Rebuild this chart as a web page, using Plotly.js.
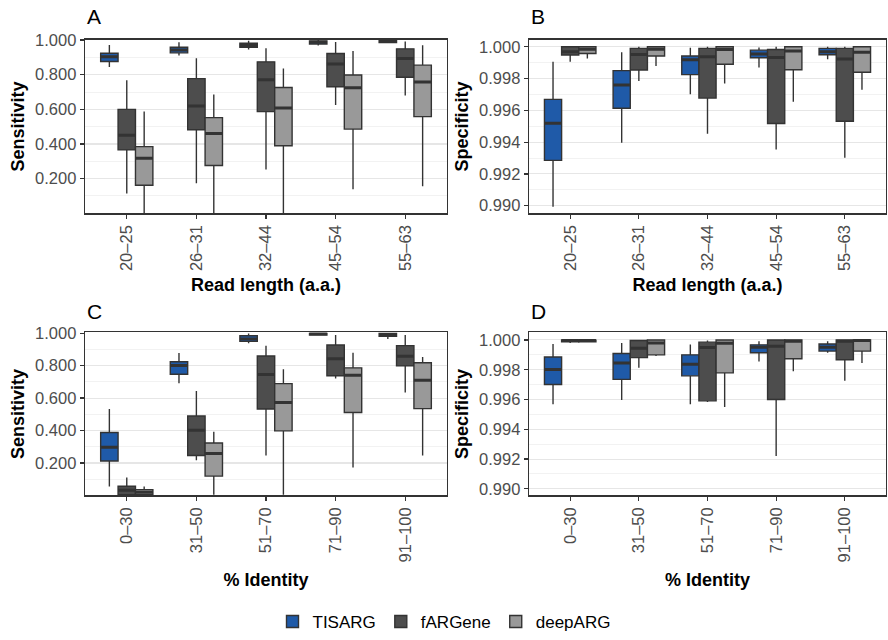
<!DOCTYPE html>
<html>
<head>
<meta charset="utf-8">
<script src="https://cdn.plot.ly/plotly-3.0.1.min.js"></script>
<style>html,body{margin:0;padding:0;background:#fff}#chart{width:888px;height:640px}</style>
</head>
<body>
<div id="chart"></div>
<script>
// ---- categories ----
const readLengths = ["20–25", "26–31", "32–44", "45–54", "55–63"];
const identities = ["0–30", "31–50", "51–70", "71–90", "91–100"];
const methods = ["TISARG", "fARGene", "deepARG"];

// ---- Panel A: Sensitivity vs read length ----
const A_TISARG_low = [0.844, 0.910, 0.945, 0.968, 0.981];
const A_TISARG_q1  = [0.876, 0.926, 0.958, 0.977, 0.985];
const A_TISARG_med = [0.903, 0.943, 0.968, 0.987, 0.994];
const A_TISARG_q3  = [0.924, 0.958, 0.981, 0.994, 0.999];
const A_TISARG_up  = [0.971, 0.987, 0.996, 1.000, 1.000];

const A_fARGene_low = [0.114, 0.173, 0.253, 0.625, 0.680];
const A_fARGene_q1  = [0.366, 0.482, 0.587, 0.730, 0.785];
const A_fARGene_med = [0.450, 0.619, 0.771, 0.861, 0.893];
const A_fARGene_q3  = [0.600, 0.777, 0.874, 0.922, 0.949];
const A_fARGene_up  = [0.768, 0.895, 0.952, 0.989, 0.992];

const A_deepARG_low = [0.000, 0.000, 0.000, 0.139, 0.156];
const A_deepARG_q1  = [0.162, 0.276, 0.390, 0.486, 0.558];
const A_deepARG_med = [0.318, 0.461, 0.608, 0.724, 0.758];
const A_deepARG_q3  = [0.385, 0.552, 0.726, 0.798, 0.855];
const A_deepARG_up  = [0.587, 0.686, 0.836, 0.937, 0.970];

// ---- Panel B: Specificity vs read length ----
const B_TISARG_low = [0.98994, 0.99396, 0.99702, 0.99869, 0.99921];
const B_TISARG_q1  = [0.99285, 0.99613, 0.99825, 0.99931, 0.99950];
const B_TISARG_med = [0.99519, 0.99760, 0.99919, 0.99954, 0.99969];
const B_TISARG_q3  = [0.99669, 0.99850, 0.99942, 0.99979, 0.99990];
const B_TISARG_up  = [0.99906, 0.99965, 0.99994, 0.99996, 1.00000];

const B_fARGene_low = [0.99906, 0.99785, 0.99452, 0.99354, 0.99302];
const B_fARGene_q1  = [0.99948, 0.99854, 0.99677, 0.99517, 0.99531];
const B_fARGene_med = [0.99969, 0.99952, 0.99938, 0.99933, 0.99923];
const B_fARGene_q3  = [1.00000, 0.99990, 0.99990, 0.99983, 0.99990];
const B_fARGene_up  = [1.00000, 1.00000, 1.00000, 1.00000, 1.00000];

const B_deepARG_low = [0.99927, 0.99879, 0.99769, 0.99654, 0.99729];
const B_deepARG_q1  = [0.99958, 0.99942, 0.99890, 0.99856, 0.99840];
const B_deepARG_med = [0.99985, 0.99985, 0.99983, 0.99973, 0.99965];
const B_deepARG_q3  = [1.00000, 1.00000, 1.00000, 1.00000, 1.00000];
const B_deepARG_up  = [1.00000, 1.00000, 1.00000, 1.00000, 1.00000];

// ---- Panel C: Sensitivity vs % identity ----
const C_TISARG_low = [0.055, 0.691, 0.937, 0.984, 0.964];
const C_TISARG_q1  = [0.212, 0.747, 0.949, 0.988, 0.980];
const C_TISARG_med = [0.297, 0.800, 0.964, 0.996, 0.992];
const C_TISARG_q3  = [0.388, 0.824, 0.984, 1.000, 1.000];
const C_TISARG_up  = [0.533, 0.877, 0.998, 1.000, 1.000];

const C_fARGene_low = [0.004, 0.216, 0.246, 0.721, 0.634];
const C_fARGene_q1  = [0.004, 0.246, 0.533, 0.737, 0.798];
const C_fARGene_med = [0.032, 0.402, 0.745, 0.842, 0.857];
const C_fARGene_q3  = [0.057, 0.489, 0.859, 0.927, 0.923];
const C_fARGene_up  = [0.111, 0.644, 0.923, 0.988, 0.988];

const C_deepARG_low = [0.004, 0.004, 0.004, 0.172, 0.246];
const C_deepARG_q1  = [0.004, 0.119, 0.398, 0.511, 0.535];
const C_deepARG_med = [0.020, 0.259, 0.572, 0.741, 0.709];
const C_deepARG_q3  = [0.036, 0.323, 0.689, 0.786, 0.818];
const C_deepARG_up  = [0.055, 0.392, 0.778, 0.879, 0.853];

// ---- Panel D: Specificity vs % identity ----
const D_TISARG_low = [0.99569, 0.99597, 0.99569, 0.99856, 0.99914];
const D_TISARG_q1  = [0.99701, 0.99735, 0.99759, 0.99914, 0.99925];
const D_TISARG_med = [0.99801, 0.99845, 0.99836, 0.99951, 0.99951];
const D_TISARG_q3  = [0.99885, 0.99909, 0.99900, 0.99967, 0.99973];
const D_TISARG_up  = [0.99973, 0.99980, 0.99969, 0.99991, 0.99991];

const D_fARGene_low = [0.99980, 0.99814, 0.99584, 0.99221, 0.99726];
const D_fARGene_q1  = [0.99987, 0.99881, 0.99591, 0.99600, 0.99867];
const D_fARGene_med = [0.99996, 0.99945, 0.99949, 0.99958, 0.99991];
const D_fARGene_q3  = [1.00000, 0.99996, 0.99985, 1.00000, 1.00000];
const D_fARGene_up  = [1.00000, 1.00000, 0.99996, 1.00000, 1.00000];

const D_deepARG_low = [0.99982, 0.99892, 0.99549, 0.99790, 0.99845];
const D_deepARG_q1  = [0.99987, 0.99900, 0.99779, 0.99874, 0.99925];
const D_deepARG_med = [0.99996, 0.99980, 0.99978, 0.99991, 0.99996];
const D_deepARG_q3  = [0.99998, 1.00000, 1.00000, 1.00000, 1.00000];
const D_deepARG_up  = [1.00000, 1.00000, 1.00000, 1.00000, 1.00000];

// ---- tick labels ----
const sensTicks = [0.2, 0.4, 0.6, 0.8, 1.0];
const sensMinor = [0.1, 0.3, 0.5, 0.7, 0.9];
const specTicks = [0.990, 0.992, 0.994, 0.996, 0.998, 1.000];
const specMinor = [0.991, 0.993, 0.995, 0.997, 0.999];

const fillColors = {TISARG: "#1f5aa8", fARGene: "#4d4d4d", deepARG: "#999999"};

const panels = [
  {cats: readLengths, xa: "x",  ya: "y",  data: {
     TISARG: [A_TISARG_low, A_TISARG_q1, A_TISARG_med, A_TISARG_q3, A_TISARG_up],
     fARGene: [A_fARGene_low, A_fARGene_q1, A_fARGene_med, A_fARGene_q3, A_fARGene_up],
     deepARG: [A_deepARG_low, A_deepARG_q1, A_deepARG_med, A_deepARG_q3, A_deepARG_up]}},
  {cats: readLengths, xa: "x2", ya: "y2", data: {
     TISARG: [B_TISARG_low, B_TISARG_q1, B_TISARG_med, B_TISARG_q3, B_TISARG_up],
     fARGene: [B_fARGene_low, B_fARGene_q1, B_fARGene_med, B_fARGene_q3, B_fARGene_up],
     deepARG: [B_deepARG_low, B_deepARG_q1, B_deepARG_med, B_deepARG_q3, B_deepARG_up]}},
  {cats: identities, xa: "x3", ya: "y3", data: {
     TISARG: [C_TISARG_low, C_TISARG_q1, C_TISARG_med, C_TISARG_q3, C_TISARG_up],
     fARGene: [C_fARGene_low, C_fARGene_q1, C_fARGene_med, C_fARGene_q3, C_fARGene_up],
     deepARG: [C_deepARG_low, C_deepARG_q1, C_deepARG_med, C_deepARG_q3, C_deepARG_up]}},
  {cats: identities, xa: "x4", ya: "y4", data: {
     TISARG: [D_TISARG_low, D_TISARG_q1, D_TISARG_med, D_TISARG_q3, D_TISARG_up],
     fARGene: [D_fARGene_low, D_fARGene_q1, D_fARGene_med, D_fARGene_q3, D_fARGene_up],
     deepARG: [D_deepARG_low, D_deepARG_q1, D_deepARG_med, D_deepARG_q3, D_deepARG_up]}}
];

const traces = [];
panels.forEach((p, pi) => {
  methods.forEach(m => {
    const d = p.data[m];
    traces.push({
      type: "box",
      name: m,
      legendgroup: m,
      showlegend: pi === 0,
      alignmentgroup: "panel" + pi,
      offsetgroup: m,
      x: p.cats,
      lowerfence: d[0], q1: d[1], median: d[2], q3: d[3], upperfence: d[4],
      xaxis: p.xa, yaxis: p.ya,
      fillcolor: fillColors[m],
      line: {color: "#333333", width: 1.4},
      whiskerwidth: 0,
      boxpoints: false,
      hoverinfo: "skip"
    });
  });
  // thicker median bars, drawn from the same median arrays
  methods.forEach(m => {
    const d = p.data[m];
    traces.push({
      type: "box",
      name: m + " median",
      legendgroup: m,
      showlegend: false,
      alignmentgroup: "panel" + pi,
      offsetgroup: m,
      x: p.cats,
      lowerfence: d[2], q1: d[2], median: d[2], q3: d[2], upperfence: d[2],
      xaxis: p.xa, yaxis: p.ya,
      fillcolor: "rgba(0,0,0,0)",
      line: {color: "#333333", width: 3},
      whiskerwidth: 0,
      boxpoints: false,
      hoverinfo: "skip"
    });
  });
});

const FAM = "Liberation Sans, Arial, sans-serif";
const tickFont = {family: FAM, size: 16.5, color: "#4d4d4d"};
const titleFont = {family: FAM, size: 18, color: "#000000", weight: "bold"};

function xAxis(domain, anchor, title, standoff) {
  return {
    domain: domain, anchor: anchor, type: "category",
    range: [-0.6, 4.6],
    showgrid: false, zeroline: false,
    showline: true, mirror: true, linecolor: "#333333", linewidth: 1.3,
    ticks: "outside", ticklen: 4, tickcolor: "#333333", tickwidth: 1.2,
    tickangle: -90, tickfont: tickFont,
    automargin: false,
    title: {text: title, font: titleFont, standoff: standoff}
  };
}
function yAxis(domain, anchor, title, range, tv, minorTv) {
  return {
    domain: domain, anchor: anchor,
    range: range,
    tickmode: "array", tickvals: tv,
    tickformat: ".3f",
    showgrid: true, gridcolor: "#e6e6e6", gridwidth: 1.1,
    minor: {tickmode: "array", tickvals: minorTv, showgrid: true, gridcolor: "#f2f2f2", gridwidth: 1, ticks: ""},
    zeroline: false,
    showline: true, mirror: true, linecolor: "#333333", linewidth: 1.3,
    ticks: "outside", ticklen: 4, tickcolor: "#333333", tickwidth: 1.2,
    tickfont: tickFont,
    automargin: false,
    title: {text: title, font: titleFont, standoff: 5}
  };
}

const xdL = [85/888, 447/888], xdR = [529/888, 886/888];
const ydT = [(640-216)/640, (640-40)/640], ydB = [(640-501.7)/640, (640-336.7)/640];

const layout = {
  width: 888, height: 640,
  margin: {l: 0, r: 0, t: 0, b: 0},
  paper_bgcolor: "#ffffff", plot_bgcolor: "#ffffff",
  font: {family: FAM},
  boxmode: "group", boxgap: 0.25, boxgroupgap: 0,
  xaxis:  xAxis(xdL, "y",  "Read length (a.a.)", 8),
  xaxis2: xAxis(xdR, "y2", "Read length (a.a.)", 8),
  xaxis3: xAxis(xdL, "y3", "% Identity", 12),
  xaxis4: xAxis(xdR, "y4", "% Identity", 12),
  yaxis:  yAxis(ydT, "x",  "Sensitivity", [0, 1.003], sensTicks, sensMinor),
  yaxis2: yAxis(ydT, "x2", "Specificity", [0.98952, 1.00046], specTicks, specMinor),
  yaxis3: yAxis(ydB, "x3", "Sensitivity", [0, 1.004], sensTicks, sensMinor),
  yaxis4: yAxis(ydB, "x4", "Specificity", [0.98956, 1.0005], specTicks, specMinor),
  legend: {orientation: "h", x: 0.5, xanchor: "center", y: (640-630)/640, yanchor: "middle",
           font: {family: FAM, size: 17, color: "#000"}},
  annotations: [
    {text: "A", x: 85/888, y: (640-17)/640},
    {text: "B", x: 529/888, y: (640-17)/640},
    {text: "C", x: 85/888, y: (640-315)/640},
    {text: "D", x: 529/888, y: (640-315)/640}
  ].map(a => Object.assign(a, {xref: "paper", yref: "paper", xanchor: "left", yanchor: "middle",
        showarrow: false, font: {family: FAM, size: 21, color: "#000"}}))
};

Plotly.newPlot("chart", traces, layout, {displayModeBar: false, staticPlot: true});
</script>
</body>
</html>
